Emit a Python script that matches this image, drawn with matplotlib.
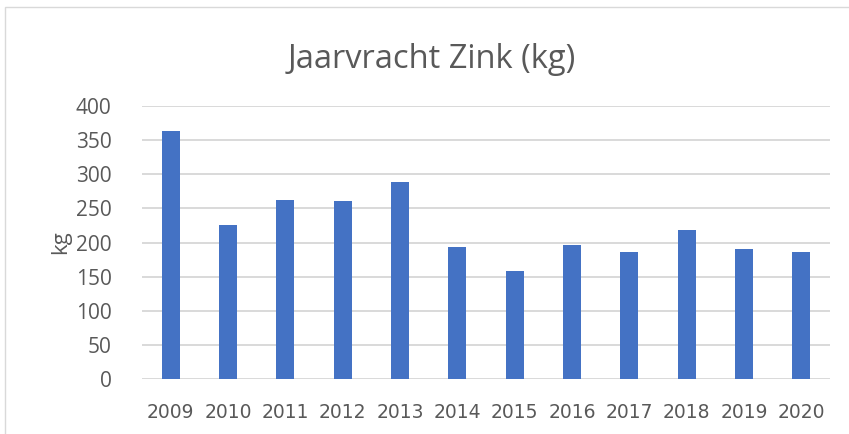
import numpy as np
import matplotlib
matplotlib.use('Agg')
from matplotlib import pyplot as plt
from matplotlib.patches import Rectangle

years = ['2009', '2010', '2011', '2012', '2013', '2014',
         '2015', '2016', '2017', '2018', '2019', '2020']
zink_kg = [364, 225, 262, 261, 289, 194, 158, 196, 186, 219, 191, 186]
yticks = [0, 50, 100, 150, 200, 250, 300, 350, 400]

grey = '#595959'
blue = '#4472C4'

fig = plt.figure(figsize=(8.49, 4.34), dpi=100)
fig.patch.set_facecolor('white')

# chart frame (cut off at right and bottom in the reference)
fig.patches.append(Rectangle((5/849, -0.05), 1.1, 1 - 7/434 + 0.05,
                             transform=fig.transFigure, fill=False,
                             edgecolor='#d9d9d9', linewidth=1.0))

ax = fig.add_axes([142/849, 1 - 379/434, (830 - 142)/849, (379 - 106)/434])
x = np.arange(len(years))
ax.bar(x, zink_kg, width=0.314, color=blue, zorder=3)

ax.set_xlim(-0.5, len(years) - 0.5)
ax.set_ylim(0, 400)
ax.set_yticks(yticks)
ax.set_yticklabels([str(v) for v in yticks], fontfamily='Open Sans',
                   fontsize=15, color=grey)
ax.set_xticks(x)
ax.set_xticklabels(years, fontfamily='Liberation Sans Narrow',
                   fontsize=13.5, color=grey)
ax.tick_params(axis='y', length=0, pad=22)
ax.tick_params(axis='x', length=0, pad=17)
ax.grid(axis='y', color='#d9d9d9', linewidth=1.4, zorder=0)
for s in ax.spines.values():
    s.set_visible(False)

fig.text(61/849, 1 - 242/434, 'kg', rotation=90, ha='center', va='center',
         fontfamily='Open Sans', fontsize=16, color=grey)
fig.text(432/849, 1 - 68/434, 'Jaarvracht Zink (kg)', ha='center', va='baseline',
         fontfamily='Open Sans', fontsize=23.5, color=grey)

fig.savefig('out.png', dpi=100, facecolor='white')
